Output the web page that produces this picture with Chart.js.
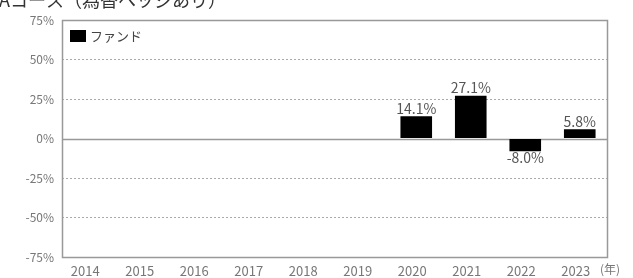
<!DOCTYPE html>
<html lang="ja">
<head>
    <meta charset="UTF-8">
    <title>Aコース（為替ヘッジあり）</title>
    <script src="https://cdn.jsdelivr.net/npm/chart.js"></script>
    <style>
        body { margin: 0; background: #fff; }
        #wrap { width: 633px; height: 278px; }
    </style>
</head>
<body>
    <div id="wrap"><canvas id="fundChart" width="633" height="278"></canvas></div>

    <script>
        // chart data
        var years = ['2014', '2015', '2016', '2017', '2018', '2019', '2020', '2021', '2022', '2023'];
        var fundReturns = [null, null, null, null, null, null, 14.1, 27.1, -8.0, 5.8];
        var yTicks = [-75, -50, -25, 0, 25, 50, 75];
        var titleText = 'Aコース（為替ヘッジあり）';
        var seriesName = 'ファンド';
        var unitText = '(年)';

        var FONT = '"Noto Sans CJK JP", "Noto Sans", sans-serif';
        var GREY = '#777';

        // title, legend, zero line, frame and value labels
        var decorations = {
            id: 'decorations',
            beforeDatasetsDraw: function(chart) {
                var c = chart.ctx, a = chart.chartArea;
                var y0 = chart.scales.y.getPixelForValue(0);
                c.save();
                c.strokeStyle = '#999';
                c.lineWidth = 1.5;
                c.beginPath();
                c.moveTo(a.left, Math.round(y0) + 0.5);
                c.lineTo(a.right, Math.round(y0) + 0.5);
                c.stroke();
                c.restore();
            },
            afterDraw: function(chart) {
                var c = chart.ctx, a = chart.chartArea;
                c.save();
                // frame
                c.strokeStyle = '#999';
                c.lineWidth = 1.5;
                c.strokeRect(a.left + 0.5, a.top + 0.5, a.right - a.left, a.bottom - a.top);

                // title (clipped at the top in the original)
                c.fillStyle = '#333';
                c.font = '18px ' + FONT;
                c.textAlign = 'left';
                c.textBaseline = 'alphabetic';
                c.fillText(titleText, -1, 7);

                // legend inside plot
                c.fillStyle = '#000';
                c.fillRect(a.left + 8, a.top + 10, 16, 12);
                c.fillStyle = '#444';
                c.font = '13px ' + FONT;
                c.textBaseline = 'middle';
                c.fillText(seriesName, a.left + 28, a.top + 16);

                // unit at the end of x axis
                c.fillStyle = GREY;
                c.font = '12px ' + FONT;
                c.fillText(unitText, a.right - 7, a.bottom + 12);

                // value labels
                var meta = chart.getDatasetMeta(0);
                c.font = '14px ' + FONT;
                c.fillStyle = '#555';
                c.textAlign = 'center';
                meta.data.forEach(function(bar, i) {
                    var v = fundReturns[i];
                    if (v === null) return;
                    var txt = v.toFixed(1) + '%';
                    if (v >= 0) {
                        c.textBaseline = 'bottom';
                        c.fillText(txt, bar.x, bar.y - 1);
                    } else {
                        c.textBaseline = 'top';
                        c.fillText(txt, bar.x, bar.y);
                    }
                });
                c.restore();
            }
        };

        var ctx = document.getElementById('fundChart').getContext('2d');
        var fundChart = new Chart(ctx, {
            type: 'bar',
            data: {
                labels: years,
                datasets: [{
                    label: seriesName,
                    data: fundReturns,
                    backgroundColor: '#000',
                    borderWidth: 0,
                    barPercentage: 0.58,
                    categoryPercentage: 1.0
                }]
            },
            options: {
                responsive: false,
                animation: false,
                layout: { padding: { top: 20, right: 26, left: 0, bottom: 0 } },
                plugins: {
                    legend: { display: false },
                    tooltip: { enabled: false }
                },
                scales: {
                    x: {
                        grid: { display: false },
                        border: { display: false },
                        ticks: {
                            color: GREY,
                            font: { family: FONT, size: 13 },
                            maxRotation: 0,
                            padding: -2,
                            labelOffset: -4
                        },
                        afterFit: function(scale) { scale.height = 21; }
                    },
                    y: {
                        min: -75,
                        max: 75,
                        afterBuildTicks: function(scale) {
                            scale.ticks = yTicks.map(function(v) { return { value: v }; });
                        },
                        afterFit: function(scale) { scale.width = 62; },
                        grid: {
                            color: function(context) {
                                var v = context.tick && context.tick.value;
                                if (v === 0 || v === 75 || v === -75) return 'rgba(0,0,0,0)';
                                return '#aaa';
                            },
                            drawTicks: false,
                            lineWidth: 1
                        },
                        border: { display: false, dash: [2, 2] },
                        ticks: {
                            color: GREY,
                            font: { family: FONT, size: 12 },
                            padding: 8,
                            callback: function(v) { return v + '%'; }
                        }
                    }
                }
            },
            plugins: [decorations]
        });
    </script>
</body>
</html>
